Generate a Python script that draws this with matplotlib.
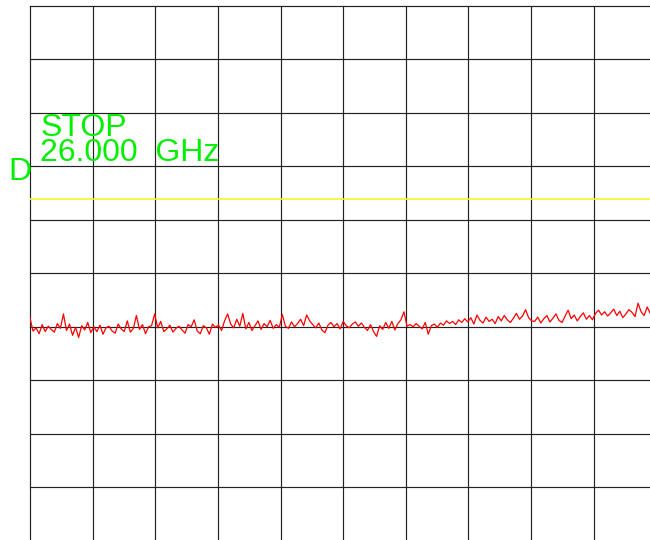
import numpy as np
import matplotlib
matplotlib.use("Agg")
import matplotlib.pyplot as plt

# Spectrum analyzer screen: 0 .. 26 GHz, 10 dB/div, reference 0 dBm at top
start_ghz = 0.0
stop_ghz = 26.0
ref_level_db = 0.0
db_per_div = 10.0
n_div = 10

display_line_db = -36.1

trace_db = [
    # 30-153 px
    -58.4, -60.8, -60.2, -61.3, -59.6, -60.9, -59.9, -60.5, -61.0, -59.4, -60.3, -57.6, -60.7, -59.5,
    -61.6, -60.1, -62.0, -59.8, -60.6, -59.2, -61.1, -60.0, -60.9, -59.7, -61.4, -60.2, -59.9, -60.8,
    -61.2, -59.5, -60.4, -60.9, -58.9, -61.0, -60.3, -57.9, -60.5, -59.6, -61.3, -60.0, -59.8, -57.6,
    # 156-277 px
    -60.2, -59.0, -60.9, -60.4, -59.7, -61.0, -60.3, -59.9, -60.6, -61.2, -59.6, -60.0, -58.7, -60.8,
    -61.3, -59.8, -60.2, -61.4, -59.5, -60.1, -59.7, -60.7, -58.9, -57.6, -59.5, -60.2, -58.6, -59.9,
    -57.5, -60.4, -59.2, -60.7, -59.8, -58.9, -60.5, -59.4, -60.0, -58.8, -60.3, -59.6, -60.1,
    # 280-403 px
    -57.7, -59.9, -60.3, -59.1, -60.0, -59.4, -58.6, -59.8, -57.8, -58.9, -59.6, -60.2, -59.3, -60.6,
    -61.1, -59.7, -59.2, -60.0, -59.4, -60.4, -59.0, -59.8, -60.2, -59.5, -59.1, -59.9, -59.3, -60.1,
    -60.7, -59.6, -60.9, -61.8, -59.8, -60.5, -59.2, -60.3, -59.0, -60.6, -59.4, -58.7, -57.2, -59.9,
    # 406-526 px
    -59.6, -60.0, -59.4, -59.9, -60.4, -59.2, -61.4, -59.8, -59.5, -60.1, -59.3, -59.7, -58.9, -59.4,
    -59.0, -59.6, -58.7, -59.2, -58.5, -59.1, -58.3, -59.5, -57.8, -58.8, -59.3, -58.2, -59.0, -58.6,
    -59.4, -58.1, -58.9, -57.9, -58.7, -59.2, -58.4, -57.5, -58.6, -58.0, -56.8, -58.3, -58.9,
    # 529-650 px
    -59.0, -58.2, -59.3, -58.5, -57.9, -59.1, -58.4, -57.6, -58.8, -59.2, -58.0, -56.9, -58.5, -57.8,
    -58.9, -58.1, -57.4, -58.6, -57.9, -58.7, -57.5, -56.9, -57.8, -57.2, -58.0, -57.4, -56.7, -57.9,
    -57.1, -58.3, -57.6, -56.8, -57.3, -58.1, -55.6, -57.2, -57.9, -56.3, -57.5, -56.9, -57.8,
]

stop_label = "STOP"
freq_label = "26.000  GHz"
marker_label = "D"

W, H = 650, 540
fig = plt.figure(figsize=(W / 100, H / 100), dpi=100)
fig.patch.set_facecolor("white")

# axes: left grid line at x=30 px, top at y=5.7 px, 62.63 px/div horizontally, 53.51 px/div vertically
left_px, top_px = 30.0, 5.7
dx_px, dy_px = 62.63, 53.51
ax_w = n_div * dx_px
ax_h = n_div * dy_px
ax = fig.add_axes([left_px / W, (H - top_px - ax_h) / H, ax_w / W, ax_h / H])
ax.set_facecolor("white")

bottom_db = ref_level_db - n_div * db_per_div
ax.set_xlim(start_ghz, stop_ghz)
ax.set_ylim(bottom_db, ref_level_db)

xt = np.linspace(start_ghz, stop_ghz, n_div + 1)
yt = np.linspace(bottom_db, ref_level_db, n_div + 1)
for v in xt:
    ax.axvline(v, color="#222222", lw=0.85, zorder=1, clip_on=False)
for v in yt:
    ax.axhline(v, color="#222222", lw=0.85, zorder=1, clip_on=False)

for s in ax.spines.values():
    s.set_visible(False)
ax.set_xticks([])
ax.set_yticks([])

ax.axhline(display_line_db, color="#f6f630", lw=1.2, zorder=2)

freqs = np.linspace(start_ghz, stop_ghz, len(trace_db))
ax.plot(freqs, trace_db, color="#ff0000", lw=0.9, zorder=3)

green = "#00f000"
fs = 23
fam = ["Liberation Sans", "DejaVu Sans"]
fig.text(40.5 / W, 1 - 135.5 / H, stop_label, color=green, fontsize=fs, family=fam,
         ha="left", va="baseline")
fig.text(40.5 / W, 1 - 160.5 / H, freq_label, color=green, fontsize=fs, family=fam,
         ha="left", va="baseline")
fig.text(8.0 / W, 1 - 180.5 / H, marker_label, color=green, fontsize=fs, family=fam,
         ha="left", va="baseline")

fig.savefig("out.png", dpi=100, facecolor="white")
